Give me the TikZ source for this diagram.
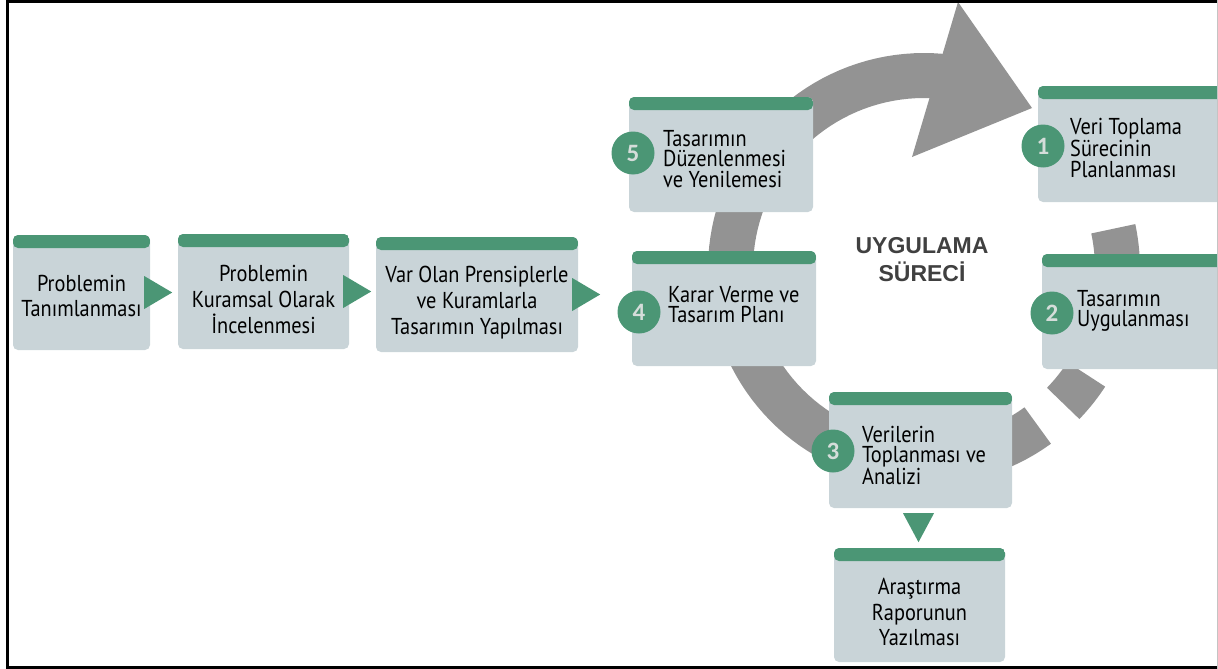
\documentclass[tikz,border=0pt]{standalone}
\usepackage{fontspec}
\setmainfont[FakeStretch=0.885]{PT Sans}
\newfontfamily\numfont{Carlito}
\newfontfamily\titlefont{Liberation Sans}
\usetikzlibrary{calc}
\definecolor{hdr}{HTML}{4B9675}
\definecolor{boxfill}{HTML}{C9D4D8}
\definecolor{arcgray}{HTML}{939393}
\definecolor{numcol}{HTML}{D5DDDA}
\definecolor{titlecol}{HTML}{404040}
\definecolor{framegray}{HTML}{C4C4C4}
\begin{document}
\begin{tikzpicture}[x=1pt,y=-1pt,
  box/.style={rectangle, rounded corners=5pt, fill=boxfill, inner sep=0pt,
    path picture={\fill[hdr] (path picture bounding box.north west) rectangle ([yshift=-13pt]path picture bounding box.north east);}},
  ctxt/.style={align=center, inner sep=0pt, font=\fontsize{23}{25.8}\selectfont},
  ltxt/.style={align=left, inner sep=0pt, anchor=west, font=\fontsize{23}{20.5}\selectfont},
  numc/.style={circle, fill=hdr, minimum size=43pt, inner sep=0pt, text=numcol, font=\numfont\bfseries\fontsize{25}{25}\selectfont},
  tri/.style={fill=hdr},
  band/.style={fill=arcgray}
]
\useasboundingbox (0,0) rectangle (1218,669);
\clip (0,0) rectangle (1218,669);

% circular process arrow
\fill[band] plot[domain=80:306,samples=90,variable=\t] ({924+216*cos(\t)},{269-216*sin(\t)})
  -- plot[domain=306:80,samples=90,variable=\t] ({924+171*cos(\t)},{269-171*sin(\t)}) -- cycle;
\fill[band] plot[domain=316:327,samples=10,variable=\t] ({924+216*cos(\t)},{269-216*sin(\t)})
  -- plot[domain=327:316,samples=10,variable=\t] ({924+171*cos(\t)},{269-171*sin(\t)}) -- cycle;
\fill[band] plot[domain=-22:12,samples=20,variable=\t] ({924+216*cos(\t)},{269-216*sin(\t)})
  -- plot[domain=12:-22,samples=20,variable=\t] ({924+171*cos(\t)},{269-171*sin(\t)}) -- cycle;
\fill[band] (958,2) -- (1032,108) -- (912,157) -- cycle;

% boxes
\node[box, minimum width=137pt, minimum height=115pt] (A) at (81.5,292.5) {};
\node[box, minimum width=171pt, minimum height=115pt] (B) at (263.5,291.5) {};
\node[box, minimum width=202pt, minimum height=115pt] (C) at (477,294.5) {};
\node[box, minimum width=184pt, minimum height=115pt] (n5) at (721,154.5) {};
\node[box, minimum width=184pt, minimum height=115pt] (n4) at (724,308.5) {};
\node[box, minimum width=192pt, minimum height=116pt] (n1) at (1134,144) {};
\node[box, minimum width=188pt, minimum height=115pt] (n2) at (1136,311.5) {};
\node[box, minimum width=183pt, minimum height=116pt] (n3) at (920.5,450) {};
\node[box, minimum width=171pt, minimum height=114pt] (R) at (919.5,605) {};

% texts
\node[ctxt] (At) at (81.5,296) {Problemin\\Tanımlanması};
\node[ctxt] (Bt) at (263.5,299.7) {Problemin\\Kuramsal Olarak\\İncelenmesi};
\node[ctxt] (Ct) at (477,302.8) {Var Olan Prensiplerle\\ve Kuramlarla\\Tasarımın Yapılması};
\node[ctxt] (Rt) at (919.5,612) {Araştırma\\Raporunun\\Yazılması};
\node[ltxt] (t5) at (663,158.7) {Tasarımın\\Düzenlenmesi\\ve Yenilemesi};
\node[ltxt] (t4) at (668,304.7) {Karar Verme ve\\Tasarım Planı};
\node[ltxt] (t1) at (1070,148) {Veri Toplama\\Sürecinin\\Planlanması};
\node[ltxt] (t2) at (1077,311) {Tasarımın\\Uygulanması};
\node[ltxt] (t3) at (862,455.7) {Verilerin\\Toplanması ve\\Analizi};

\node[align=center, inner sep=0pt, text=titlecol, font=\titlefont\bfseries\fontsize{23}{28}\selectfont] (title) at (922,260) {UYGULAMA\\SÜRECİ};

% number badges
\node[numc] (c5) at (633,153) {5};
\node[numc] (c4) at (639,312) {4};
\node[numc] (c1) at (1043,146) {1};
\node[numc] (c2) at (1052,313) {2};
\node[numc] (c3) at (833,451) {3};

% triangle connectors
\fill[tri] ($(A.east)+(-6,-16.5)$) -- ($(A.east)+(-6,16.5)$) -- ($(A.east)+(22,0)$) -- cycle;
\fill[tri] ($(B.east)+(-6,-16.5)$) -- ($(B.east)+(-6,16.5)$) -- ($(B.east)+(22,0)$) -- cycle;
\fill[tri] ($(C.east)+(-6,-16.5)$) -- ($(C.east)+(-6,16.5)$) -- ($(C.east)+(22,0)$) -- cycle;
\fill[tri] ($(n3.south)+(-17.5,5)$) -- ($(n3.south)+(13.5,5)$) -- ($(n3.south)+(-2,34)$) -- cycle;

% frame
\fill[black] (6,0) rectangle (8.7,669);
\fill[black] (6,0) rectangle (1218,2.7);
\fill[black] (6,666.3) rectangle (1218,669);
\fill[framegray] (1216.7,0) rectangle (1218,669);
\end{tikzpicture}
\end{document}
